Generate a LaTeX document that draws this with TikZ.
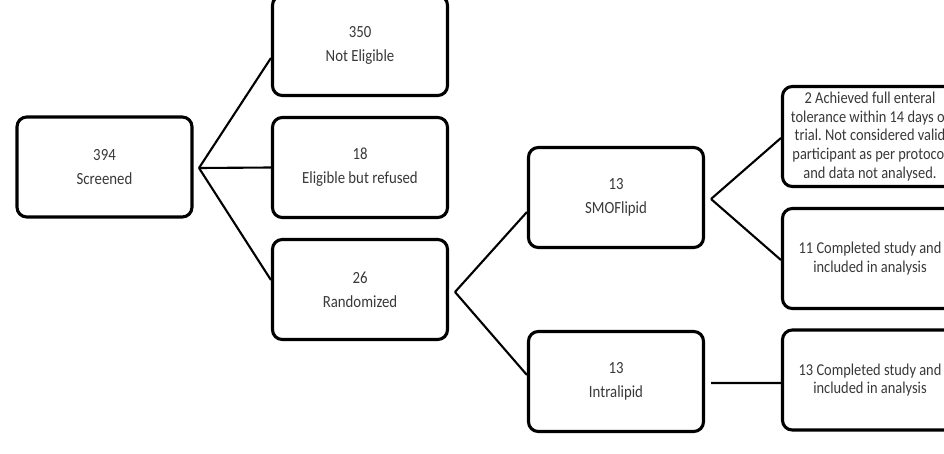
\documentclass[tikz,border=0pt]{standalone}
\usepackage{fontspec}
\setmainfont{Carlito}[FakeStretch=0.87]
\usetikzlibrary{calc}

\tikzset{
  flowbox/.style={draw, line width=2.2pt, rounded corners=7pt, minimum width=4.375cm,
    minimum height=2.5cm, align=center, text=black!78, inner sep=0pt},
  bigtext/.style={font=\fontsize{12.1}{17}\selectfont},
  smalltext/.style={font=\fontsize{11.8}{13.3}\selectfont},
  link/.style={line width=1.5pt}
}

\begin{document}
\frenchspacing
\begin{tikzpicture}[x=0.025cm, y=-0.025cm]
        \clip (0,0) rectangle (944,453);

        % Draw the screening boxes
        \node[flowbox, bigtext] (screen) at (104.5,167) {394\\Screened};
        \node[flowbox, bigtext] (noelig) at (360,45.5) {350\\Not Eligible};
        \node[flowbox, bigtext] (refused) at (360,167.5) {18\\Eligible but refused};
        \node[flowbox, bigtext] (random) at (360,289.5) {26\\Randomized};

        % Draw the two arms
        \node[flowbox, bigtext] (smof) at (616,197.5) {13\\SMOFlipid};
        \node[flowbox, bigtext] (intra) at (616,381.5) {13\\Intralipid};

        % Draw the outcome boxes
        \node[flowbox, smalltext] (excl) at (870,136.5) {2 Achieved full enteral\\tolerance within 14 days of\\trial. Not considered valid\\participant as per protocol\\and data not analysed.};
        \node[flowbox, smalltext] (done1) at (870,258.5) {11 Completed study and\\included in analysis};
        \node[flowbox, smalltext] (done2) at (870,380) {13 Completed study and\\included in analysis};

        % Add the branch points
        \coordinate (split1) at (199,168);
        \coordinate (split2) at (455,292);
        \coordinate (split3) at (711,199);

        % Connect the boxes
        \draw[link] (split1) -- ($(noelig.west)+(0,12.5)$);
        \draw[link] (split1) -- (refused.west);
        \draw[link] (split1) -- ($(random.west)+(0,-9.5)$);
        \draw[link] (split2) -- ($(smof.west)+(0,14.5)$);
        \draw[link] (split2) -- ($(intra.west)+(0,-6.5)$);
        \draw[link] (split3) -- ($(excl.west)+(0,1.5)$);
        \draw[link] (split3) -- ($(done1.west)+(0,1.5)$);
        \draw[link] ($(intra.east)+(6,1.5)$) -- ($(done2.west)+(0,3)$);
    \end{tikzpicture}
\end{document}
